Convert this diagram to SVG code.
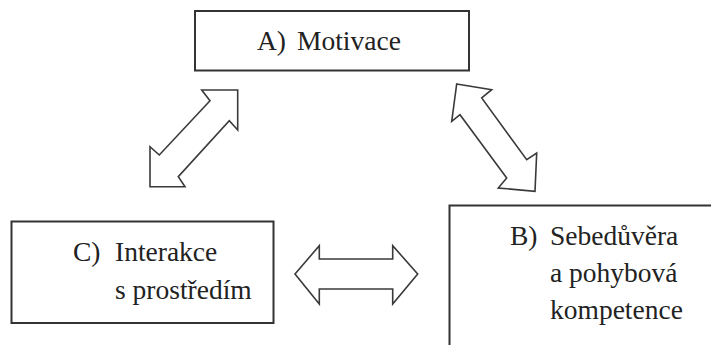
<svg xmlns="http://www.w3.org/2000/svg" width="711" height="345" viewBox="0 0 711 345">
<style>
.box{fill:#fff;stroke:#333;stroke-width:2}
.arr{fill:#fff;stroke:#3a3a3a;stroke-width:1.6;stroke-linejoin:miter}
.t{font-family:'Liberation Serif','Times New Roman',serif;font-size:27.5px;fill:#222}
</style>
<rect width="711" height="345" fill="#fff"/>
<g id="nodeA">
<rect class="box" x="195" y="11" width="274" height="59.5"/>
<text class="t" x="257" y="50">A)</text>
<text class="t" x="297" y="50">Motivace</text>
</g>
<g id="nodeC">
<rect class="box" x="11.5" y="221.5" width="262" height="101.5"/>
<text class="t" x="73" y="261">C)</text>
<text class="t" x="115" y="261">Interakce</text>
<text class="t" x="115" y="299">s prostředím</text>
</g>
<g id="nodeB">
<rect class="box" x="449.5" y="205.5" width="300" height="200"/>
<text class="t" x="510" y="245">B)</text>
<text class="t" x="550" y="245">Sebedůvěra</text>
<text class="t" x="550" y="282">a pohybová</text>
<text class="t" x="550" y="319">kompetence</text>
</g>
<g id="connectors">
<polygon class="arr" points="237.7,90 237.7,130 229.3,120.7 178.3,176.7 185,186.7 150,186.7 150,146.7 159.3,155 210,100.7 201.7,90"/>
<polygon class="arr" points="456.7,84 491.7,89.7 481.7,98 526.7,159.7 536.7,153 535,191.3 498.3,188 506.7,178 460,114.7 451.7,121.3"/>
<polygon class="arr" points="295,274 319.3,245.7 319.3,259 392.7,259 392.7,245.7 417.7,274 392.7,304 392.7,289 319.3,289 319.3,304"/>
</g>
</svg>
